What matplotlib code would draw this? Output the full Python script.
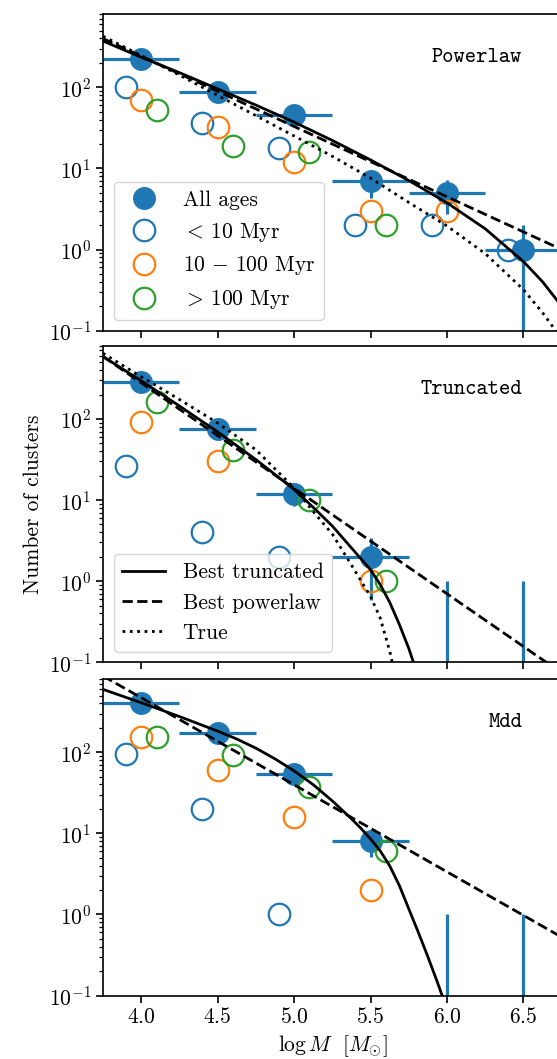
import matplotlib
matplotlib.use("Agg")
import matplotlib.pyplot as plt
import numpy as np

plt.rcParams["font.family"] = "serif"
plt.rcParams["font.serif"] = ["cmr10"]
plt.rcParams["mathtext.fontset"] = "cm"
plt.rcParams["axes.unicode_minus"] = False
plt.rcParams["axes.formatter.use_mathtext"] = True
plt.rcParams["font.size"] = 15.5
plt.rcParams["axes.linewidth"] = 1.2

# mass bins (log M) and counts per panel
logm = [4.0, 4.5, 5.0, 5.5, 6.0, 6.5]

pl_all = [223, 87, 46, 7, 5, 1]
pl_young = [100, 36, 18, 2, 2, 1]
pl_mid = [70, 32, 12, 3, 3, 0]
pl_old = [53, 19, 16, 2, 0, 0]

tr_all = [283, 76, 12, 2, 0, 0]
tr_young = [26, 4, 2, 0, 0, 0]
tr_mid = [93, 30, 0, 1, 0, 0]
tr_old = [164, 42, 10, 1, 0, 0]

md_all = [404, 173, 54, 8, 0, 0]
md_young = [94, 20, 1, 0, 0, 0]
md_mid = [155, 60, 16, 2, 0, 0]
md_old = [155, 93, 37, 6, 0, 0]

# model curves
pl_curve_x = [3.75, 4.0, 4.25, 4.5, 4.75, 5.0, 5.25, 5.5, 5.75, 6.0, 6.25, 6.5, 6.625, 6.75]
pl_trunc = [371.5, 234.4, 151.4, 95.5, 60.3, 37.2, 22.1, 12.7, 7.08, 3.76, 1.80, 0.71, 0.40, 0.20]
pl_true = [426.6, 245.5, 141.3, 79.4, 44.7, 25.1, 14.1, 7.59, 3.80, 1.95, 0.89, 0.32, 0.166, 0.079]
pl_pow_x = [3.75, 6.75]
pl_pow = [398, 1.0]

tr_curve_x = [3.75, 4.0, 4.25, 4.5, 4.75, 5.0, 5.125, 5.25, 5.375, 5.5, 5.5625, 5.625, 5.6875, 5.75, 5.8125]
tr_trunc = [588.8, 295, 144.5, 69.2, 31.6, 13.5, 8.13, 4.79, 2.57, 1.38, 0.91, 0.55, 0.295, 0.148, 0.066]
tr_true_x = [3.75, 4.0, 4.25, 4.5, 4.75, 5.0, 5.125, 5.25, 5.375, 5.5, 5.5625, 5.625, 5.6875]
tr_true = [645.7, 331.1, 173.8, 89.1, 41.7, 14.1, 7.24, 3.80, 1.58, 0.646, 0.355, 0.138, 0.040]
tr_pow_x = [3.75, 6.75]
tr_pow = [589, 0.074]

md_curve_x = [3.75, 4.0, 4.25, 4.5, 4.625, 4.75, 4.875, 5.0, 5.125, 5.25, 5.375, 5.4375,
              5.5, 5.5625, 5.625, 5.6875, 5.75, 5.8125, 5.875, 5.9375, 6.0]
md_trunc = [595.7, 407.4, 275.4, 182, 145.5, 112.2, 82.8, 58.9, 39.8, 25.1, 15.1, 11.5,
            8.51, 6.10, 3.98, 2.29, 1.17, 0.60, 0.30, 0.145, 0.068]
md_pow_x = [3.75, 6.75]
md_pow = [871, 0.525]

names = ["Powerlaw", "Truncated", "Mdd"]
counts = [
    (pl_all, pl_young, pl_mid, pl_old),
    (tr_all, tr_young, tr_mid, tr_old),
    (md_all, md_young, md_mid, md_old),
]
curves = [
    [(pl_curve_x, pl_trunc, "-"), (pl_pow_x, pl_pow, "--"), (pl_curve_x, pl_true, ":")],
    [(tr_curve_x, tr_trunc, "-"), (tr_pow_x, tr_pow, "--"), (tr_true_x, tr_true, ":")],
    [(md_curve_x, md_trunc, "-"), (md_pow_x, md_pow, "--")],
]
curve_labels = ["Best truncated", "Best powerlaw", "True"]

fig = plt.figure(figsize=(5.57, 10.59), dpi=100)
left, width, height = 103 / 557, 458.7 / 557, 316.6 / 1059
bottoms = [0.6878, 0.3746, 0.0599]
axes = [fig.add_axes([left, b, width, height]) for b in bottoms]

x = np.array(logm)
ms = 15.5
for i, ax in enumerate(axes):
    n_all, n_young, n_mid, n_old = [np.array(c, dtype=float) for c in counts[i]]
    ax.set_yscale("log")
    ax.errorbar(x, n_all, xerr=0.25, yerr=np.sqrt(np.maximum(n_all, 1)),
                fmt="none", ecolor="C0", elinewidth=2.3, capsize=0)
    shown = np.where(n_all > 0, n_all, np.nan)
    ax.plot(x, shown, "o", color="C0", ms=ms, label="All ages")
    for off, n, c, lab in [(-0.1, n_young, "C0", r"$<\,10$ Myr"),
                           (0.0, n_mid, "C1", r"$10\,-\,100$ Myr"),
                           (0.1, n_old, "C2", r"$>\,100$ Myr")]:
        ax.plot(x + off, np.where(n > 0, n, np.nan), "o", mfc="none", mec=c,
                mew=1.6, ms=ms, label=lab)
    line_handles = []
    for (cx, cy, ls), lab in zip(curves[i], curve_labels):
        h, = ax.plot(cx, cy, ls=ls, color="k", lw=2.0, label=lab)
        line_handles.append(h)
    ax.set_xlim(3.75, 6.75)
    ax.set_ylim(0.1, 800)
    ax.tick_params(which="major", length=5, width=1.2)
    ax.tick_params(which="minor", length=2.8, width=0.9)
    ax.text(0.9135, 0.862, names[i], transform=ax.transAxes, ha="right", va="center",
            fontfamily="cmtt10", fontsize=15.5)
    if i < 2:
        ax.tick_params(labelbottom=False)
    if i == 0:
        handles = ax.get_legend_handles_labels()[0][:4]
        ax.legend(handles=handles, loc="lower left", fontsize=15.5)
    if i == 1:
        ax.legend(handles=line_handles, loc="lower left", fontsize=15.5)

axes[1].set_ylabel("Number of clusters")
axes[2].set_xlabel(r"$\log M\ \ [M_{\odot}]$")

fig.savefig("out.png", dpi=100)
